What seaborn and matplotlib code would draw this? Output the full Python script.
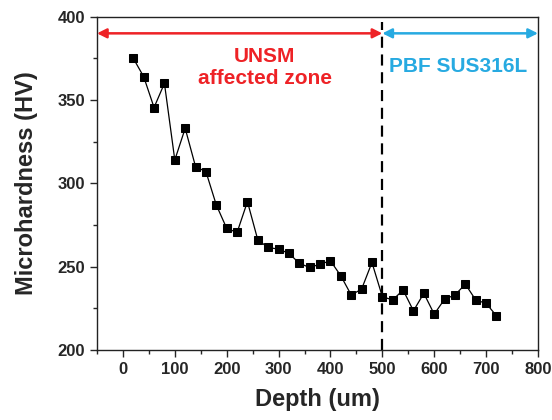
import matplotlib
matplotlib.use("Agg")
import matplotlib.pyplot as plt
import seaborn as sns
import pandas as pd
from matplotlib.ticker import MultipleLocator

depth = [20, 40, 60, 80, 100, 120, 140, 160, 180, 200, 220, 240, 260, 280, 300,
         320, 340, 360, 380, 400, 420, 440, 460, 480, 500, 520, 540, 560, 580,
         600, 620, 640, 660, 680, 700, 720]
hardness = [375, 364, 345.5, 360, 314, 333, 310, 307, 287, 273, 270.5, 289, 266,
            261.5, 260.5, 258, 252, 249.5, 251.5, 253.5, 244.5, 233, 236.5, 252.5,
            232, 230, 236, 223.5, 234, 221.5, 230.5, 233, 239.5, 230, 228, 220.5]

boundary = 500
zone_labels = ["UNSM\naffected zone", "PBF SUS316L"]

sns.set_style("ticks")
plt.rcParams['font.family'] = ['Liberation Sans', 'DejaVu Sans']
plt.rcParams['font.weight'] = 'bold'

df = pd.DataFrame({"Depth": depth, "HV": hardness})

fig = plt.figure(figsize=(5.52, 4.2), dpi=100)
ax = fig.add_axes([0.1757, 0.1667, 0.7989, 0.7936])

sns.lineplot(data=df, x="Depth", y="HV", ax=ax, color="black", linewidth=0.9,
             marker="s", markersize=6, markeredgecolor="black",
             markerfacecolor="black")

ax.set_xlim(-50, 800)
ax.set_ylim(200, 400)
ax.xaxis.set_major_locator(MultipleLocator(100))
ax.xaxis.set_minor_locator(MultipleLocator(50))
ax.yaxis.set_major_locator(MultipleLocator(50))
ax.yaxis.set_minor_locator(MultipleLocator(25))
ax.tick_params(which='major', direction='out', length=5, width=1,
               labelsize=12, top=False, right=False)
ax.tick_params(which='minor', direction='out', length=3, width=1,
               top=False, right=False)
for lab in ax.get_xticklabels() + ax.get_yticklabels():
    lab.set_fontweight('bold')
for s in ax.spines.values():
    s.set_linewidth(1.0)
    s.set_color('#222222')

ax.set_xlabel("Depth (um)", fontsize=17, fontweight='bold', labelpad=8)
ax.set_ylabel("Microhardness (HV)", fontsize=17, fontweight='bold', labelpad=14)

ax.axvline(boundary, ymin=0.0, ymax=0.985, color='black', linewidth=1.6,
           dashes=(5, 3))

red = '#ee2226'
blue = '#27aae1'
ax.annotate("", xy=(-50, 390), xytext=(boundary, 390),
            arrowprops=dict(arrowstyle='<|-|>', color=red, lw=1.8,
                            mutation_scale=14, shrinkA=0, shrinkB=0))
ax.annotate("", xy=(boundary, 390), xytext=(800, 390),
            arrowprops=dict(arrowstyle='<|-|>', color=blue, lw=1.8,
                            mutation_scale=14, shrinkA=0, shrinkB=0))

ax.text(273, 369.5, zone_labels[0], color=red, fontsize=15, fontweight='bold',
        ha='center', va='center', linespacing=1.25)
ax.text(646, 370, zone_labels[1], color=blue, fontsize=15, fontweight='bold',
        ha='center', va='center')

fig.savefig("out.png", dpi=100)
